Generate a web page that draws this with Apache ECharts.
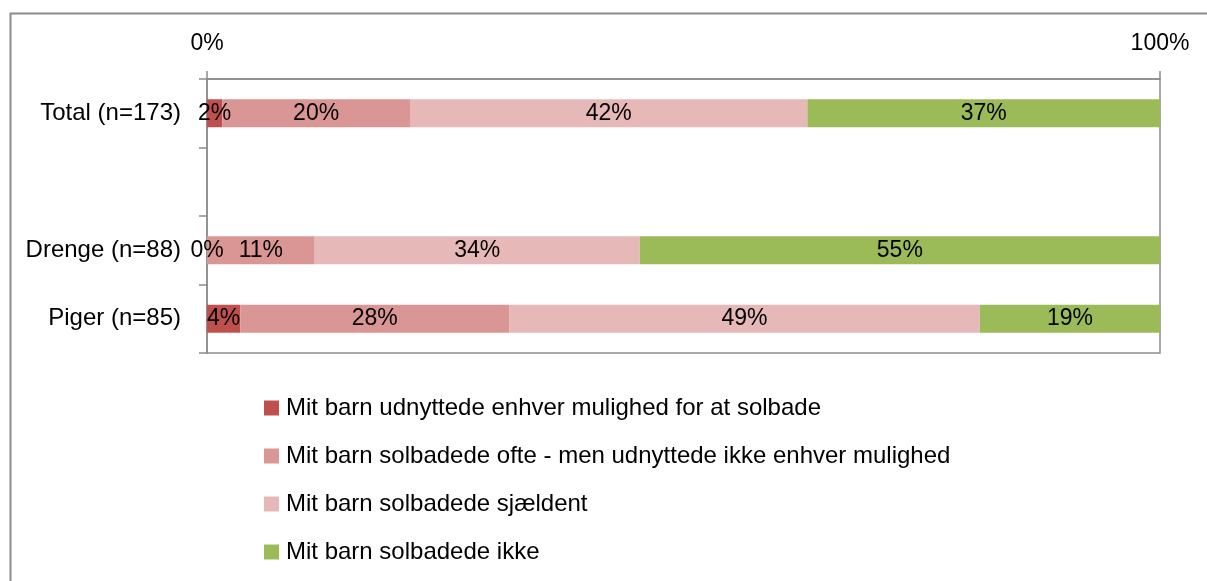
<!DOCTYPE html>
<html>
<head>
<meta charset="utf-8">
<script src="https://cdn.jsdelivr.net/npm/echarts@6/dist/echarts.min.js"></script>
<style>
  html, body { margin: 0; padding: 0; background: #fff; }
  #chart { width: 1207px; height: 581px; }
</style>
</head>
<body>
<div id="chart"></div>
<script>
// kategorier (tom plads mellem Total og Drenge)
const categories = ['Total (n=173)', '', 'Drenge (n=88)', 'Piger (n=85)'];
const seriesNames = [
  'Mit barn udnyttede enhver mulighed for at solbade',
  'Mit barn solbadede ofte - men udnyttede ikke enhver mulighed',
  'Mit barn solbadede sjældent',
  'Mit barn solbadede ikke'
];
// andele i procent
const udnyttede = [1.6, null, 0, 3.5];
const ofte = [19.7, null, 11.3, 28.2];
const sjaeldent = [41.7, null, 34.1, 49.4];
const ikke = [37.0, null, 54.6, 18.9];
const xTicks = [0, 100];

const colors = ['#C0504D', '#DA9694', '#E6B9B8', '#9BBB59'];
const font = "'Liberation Sans', sans-serif";

let myChart = echarts.init(document.getElementById('chart'));

function mkSeries(i, data) {
  return {
    name: seriesNames[i],
    type: 'bar',
    stack: 'total',
    data: data,
    barWidth: 28,
    itemStyle: { color: colors[i] },
    label: {
      show: true,
      position: 'inside',
      color: '#000',
      fontSize: 23,
      fontFamily: font,
      formatter: function (p) {
        if (p.value == null) return '';
        return Math.round(p.value) + '%';
      }
    }
  };
}

let option = {
  animation: false,
  textStyle: { fontFamily: font },
  graphic: [
    {
      type: 'rect',
      left: 8, top: 11,
      shape: { width: 1220, height: 600 },
      style: { fill: 'none', stroke: '#8c8c8c', lineWidth: 2 }
    }
  ],
  grid: {
    left: 207,
    right: 47,
    top: 79,
    bottom: 228,
    show: true,
    borderColor: '#8c8c8c',
    borderWidth: 1.5,
    backgroundColor: 'transparent'
  },
  legend: {
    orient: 'vertical',
    left: 264,
    top: 396,
    padding: 0,
    itemWidth: 15,
    itemHeight: 15,
    itemGap: 24,
    icon: 'rect',
    data: seriesNames,
    textStyle: { color: '#000', fontSize: 24, fontFamily: font, padding: [0, 0, 0, 2] }
  },
  xAxis: {
    type: 'value',
    position: 'top',
    min: 0,
    max: 100,
    interval: 100,
    splitLine: { show: false },
    axisLine: { show: true, lineStyle: { color: '#8c8c8c', width: 1.5 } },
    axisTick: { show: true, length: 8, lineStyle: { color: '#8c8c8c', width: 1.5 } },
    axisLabel: {
      color: '#000',
      fontSize: 23,
      fontFamily: font,
      margin: 24,
      formatter: function (v) { return xTicks.indexOf(v) >= 0 ? v + '%' : ''; }
    }
  },
  yAxis: {
    type: 'category',
    inverse: true,
    data: categories,
    axisLine: { show: true, lineStyle: { color: '#8c8c8c', width: 1.5 } },
    axisTick: { show: true, length: 8, lineStyle: { color: '#8c8c8c', width: 1.5 } },
    axisLabel: { color: '#000', fontSize: 24, fontFamily: font, margin: 26 }
  },
  series: [
    mkSeries(0, udnyttede),
    mkSeries(1, ofte),
    mkSeries(2, sjaeldent),
    mkSeries(3, ikke)
  ]
};

myChart.setOption(option);
window.addEventListener('resize', function () {
  myChart.resize();
});
</script>
</body>
</html>
